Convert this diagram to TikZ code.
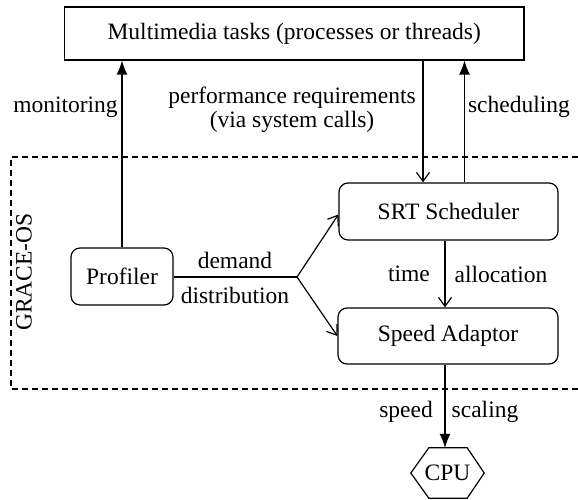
\documentclass[tikz,border=0pt]{standalone}
\usepackage{fontspec}
\setmainfont{Liberation Serif}
\usetikzlibrary{arrows.meta}
\begin{document}
\begin{tikzpicture}[x=1pt,y=-1pt,
  every node/.style={font=\fontsize{23.5}{24}\selectfont},
  box/.style={draw, line width=1.2pt, inner sep=0pt},
  rbox/.style={box, rounded corners=9pt},
  conn/.style={line width=1.2pt},
  filled/.style={conn,-{Latex[length=14pt,width=11pt]}},
  openv/.style={conn,-{Straight Barb[length=9pt,width=13pt]}},
  frame/.style={line width=1.4pt, dash pattern=on 6pt off 4pt},
  lbl/.style={inner sep=0pt}]
\useasboundingbox (0,0) rectangle (578,500);
% frame
\draw[frame] (578,157) -- (11,157) -- (11,389) -- (578,389);
\node[lbl, rotate=90] (grace) at (24,272) {GRACE-OS};
% nodes
\node[box, minimum width=459.5pt, minimum height=53pt] (mm) at (294.25,33.5) {Multimedia tasks (processes or threads)};
\node[rbox, minimum width=219pt, minimum height=57pt] (srt) at (448.5,211.5) {SRT Scheduler};
\node[rbox, minimum width=220pt, minimum height=56pt] (sa) at (448,336) {Speed Adaptor};
\node[rbox, minimum width=102pt, minimum height=57pt] (prof) at (122,276.5) {Profiler};
\node[minimum width=73pt, minimum height=50pt, inner sep=0pt] (cpu) at (447.5,473) {CPU};
\draw[conn, line join=miter] (cpu.west) -- ([xshift=18pt]cpu.north west) -- ([xshift=-17pt]cpu.north east)
  -- (cpu.east) -- ([xshift=-17pt]cpu.south east) -- ([xshift=18pt]cpu.south west) -- cycle;
% helper coordinates
\coordinate (perfx) at (423,0);
\coordinate (schedx) at (464.5,0);
\coordinate (timex) at (445,0);
\coordinate (br) at (297,277);
% connectors
\draw[filled] (prof.north) -- (prof.north |- mm.south);
\draw[openv] (perfx |- mm.south) -- (perfx |- srt.north);
\draw[filled] (schedx |- srt.north) -- (schedx |- mm.south);
\draw[openv] (timex |- srt.south) -- (timex |- sa.north);
\draw[filled] (timex |- sa.south) -- (timex |- cpu.north);
\draw[conn] (prof.east |- br) -- (br);
\draw[openv] (br) -- ([yshift=-3pt]srt.west);
\draw[openv] (br) -- (sa.west);
% labels
\node[lbl] (lmon) at (65.5,107) {monitoring};
\node[lbl, align=center] (lperf) at (292,110) {performance requirements\\(via system calls)};
\node[lbl] (lsched) at (519,107) {scheduling};
\node[lbl] (ldem) at (235,260) {demand};
\node[lbl] (ldist) at (235,295) {distribution};
\node[lbl] (ltime) at (409,274) {time};
\node[lbl] (lalloc) at (501,274) {allocation};
\node[lbl] (lspeed) at (406,412) {speed};
\node[lbl] (lscal) at (485,412) {scaling};
\end{tikzpicture}
\end{document}
